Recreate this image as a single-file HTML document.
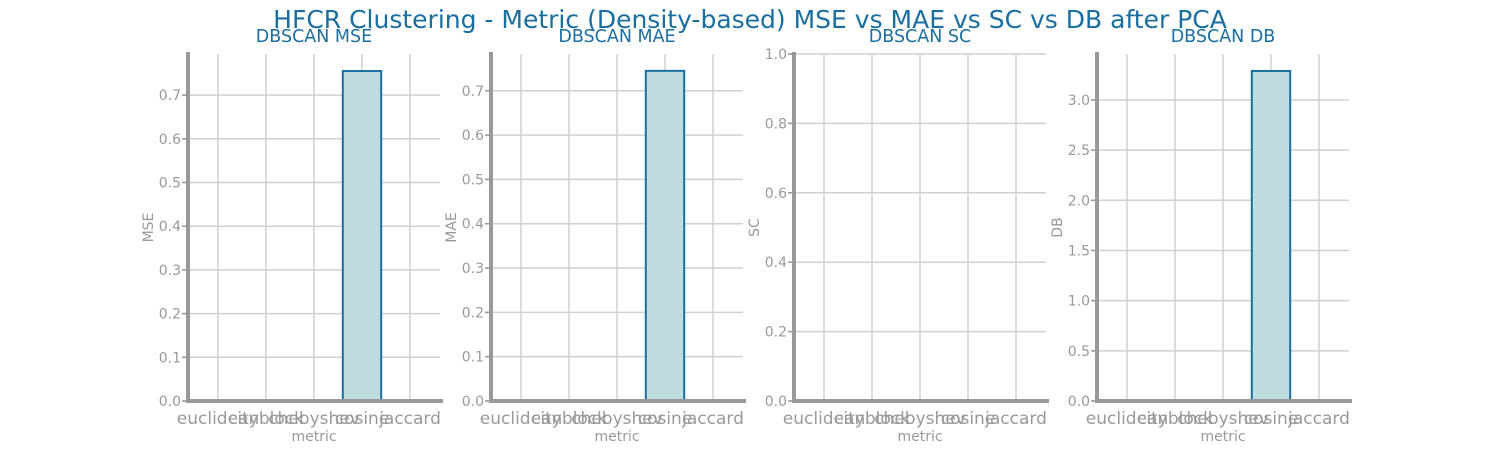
<!DOCTYPE html>
<html><head><meta charset="utf-8"><style>
body{margin:0;background:#fff;}
svg{display:block;font-family:"DejaVu Sans","Liberation Sans",sans-serif;}
</style></head><body>
<svg id="c" width="1500" height="450">
<text x="750" y="28" text-anchor="middle" font-size="25" fill="#1a6ea0">HFCR Clustering - Metric (Density-based) MSE vs MAE vs SC vs DB after PCA</text>
</svg>
<script>
const categories = ["euclidean","cityblock","chebyshev","cosine","jaccard"];
const mseValues = [0,0,0,0.755,0];
const maeValues = [0,0,0,0.745,0];
const scValues = [0,0,0,0,0];
const dbValues = [0,0,0,3.289,0];
const mseTicks = [0,0.1,0.2,0.3,0.4,0.5,0.6,0.7];
const maeTicks = [0,0.1,0.2,0.3,0.4,0.5,0.6,0.7];
const scTicks = [0,0.2,0.4,0.6,0.8,1.0];
const dbTicks = [0,0.5,1.0,1.5,2.0,2.5,3.0];
const titles = ["DBSCAN MSE","DBSCAN MAE","DBSCAN SC","DBSCAN DB"];
const ylabels = ["MSE","MAE","SC","DB"];

const NS="http://www.w3.org/2000/svg";
const svg=document.getElementById('c');
function mk(tag,attrs,parent){const e=document.createElementNS(NS,tag);for(const k in attrs)e.setAttribute(k,attrs[k]);(parent||svg).appendChild(e);return e;}

const panels=[
 {x0:188,vals:mseValues,ticks:mseTicks,ymax:0.794,dec:1},
 {x0:491,vals:maeValues,ticks:maeTicks,ymax:0.783,dec:1},
 {x0:794,vals:scValues,ticks:scTicks,ymax:1.0,dec:1},
 {x0:1097,vals:dbValues,ticks:dbTicks,ymax:3.458,dec:1}
];
const y0=401,yTop=54,W=252;
panels.forEach((p,i)=>{
 const g=mk('g',{});
 
 
 const xs=c=>p.x0+(c+0.625)*W/5.25;
 const ys=v=>y0-v/p.ymax*(y0-yTop);
 categories.forEach((c,j)=>{
  const l=mk('line',{x1:xs(j),x2:xs(j),y1:yTop,y2:y0,stroke:'#d0d0d0','stroke-width':1.5},g);
  
  
 });
 p.ticks.forEach(t=>{
  const l=mk('line',{x1:p.x0-5,x2:p.x0+W,y1:ys(t),y2:ys(t),stroke:'#d0d0d0','stroke-width':1.5},g);
  
  
  const tk=mk('line',{x1:p.x0-6,x2:p.x0,y1:ys(t),y2:ys(t),stroke:'#999','stroke-width':1.5},g);
  
  
  const tx=mk('text',{x:p.x0-7,y:ys(t)+5,'text-anchor':'end','font-size':14,fill:'#999'},g);
  tx.textContent=t.toFixed(p.dec);
  
  
 });
 p.vals.forEach((v,j)=>{
  if(v<=0)return;
  const b=mk('rect',{x:xs(j)-0.4*W/5.25,y:ys(v),width:0.8*W/5.25,height:y0-ys(v),fill:'#bfdde0',stroke:'#1a6ea0','stroke-width':2},g);
  
  
 });
 const ls=mk('line',{x1:p.x0,x2:p.x0,y1:yTop-2,y2:y0+2,stroke:'#999','stroke-width':4},g);
 
 
 const bs=mk('line',{x1:p.x0-2,x2:p.x0+W+3,y1:y0,y2:y0,stroke:'#999','stroke-width':4},g);
 
 
 categories.forEach((c,j)=>{
  const tx=mk('text',{x:xs(j),y:424,'text-anchor':'middle','font-size':17,fill:'#999'},g);
  tx.textContent=c;
  
  
 });
 const xt=mk('text',{x:p.x0+W/2,y:441,'text-anchor':'middle','font-size':14,fill:'#999'},g);
 xt.textContent='metric';
 
 
 const yt=mk('text',{x:0,y:0,'text-anchor':'middle','font-size':14,fill:'#999',transform:`translate(${p.x0-35},${(yTop+y0)/2}) rotate(-90)`},g);
 yt.textContent=ylabels[i];
 
 
 const tt=mk('text',{x:p.x0+W/2,y:42,'text-anchor':'middle','font-size':17.5,fill:'#1a6ea0'},g);
 tt.textContent=titles[i];
 
 
});
</script>
</body></html>
